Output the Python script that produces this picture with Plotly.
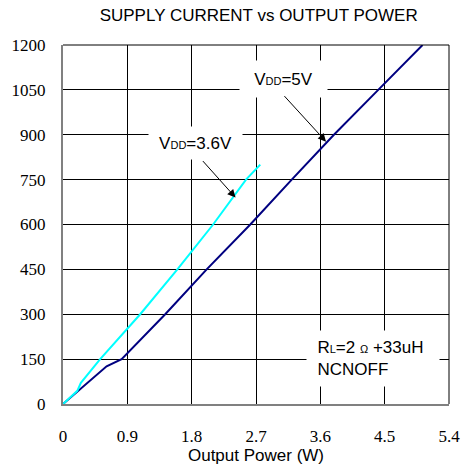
import plotly.graph_objects as go

# ---- data ----
x_tick_vals = [0, 0.9, 1.8, 2.7, 3.6, 4.5, 5.4]
x_tick_text = ["0", "0.9", "1.8", "2.7", "3.6", "4.5", "5.4"]
y_tick_vals = [0, 150, 300, 450, 600, 750, 900, 1050, 1200]
y_tick_text = ["0", "150", "300", "450", "600", "750", "900", "1050", "1200"]

vdd5_power = [0, 0.61, 0.82, 1.43, 2.01, 2.62, 3.20, 3.79, 4.41, 5.03]
vdd5_current = [0, 126, 150, 300, 450, 600, 750, 900, 1050, 1200]

vdd36_power = [0, 0.20, 0.25, 0.52, 1.08, 1.60, 2.10, 2.56, 2.76]
vdd36_current = [0, 44, 71, 150, 300, 450, 600, 750, 800]

NAVY = "#000080"
CYAN = "#00FFFF"
SANS = "Liberation Sans, Arial, sans-serif"
SERIF = "Times New Roman, Liberation Serif, serif"

fig = go.Figure()
fig.add_trace(go.Scatter(x=vdd5_power, y=vdd5_current, mode="lines",
                         line=dict(color=NAVY, width=2), name="VDD=5V",
                         showlegend=False))
fig.add_trace(go.Scatter(x=vdd36_power, y=vdd36_current, mode="lines",
                         line=dict(color=CYAN, width=2), name="VDD=3.6V",
                         showlegend=False))

small = "<span style='font-size:11px'>"
nb = "\u00a0\u00a0"
annotations = [
    # label boxes (white background masks the grid)
    dict(x=3.08, y=1088, xref="x", yref="y", showarrow=False,
         text="V" + small + "DD</span>=5V", bgcolor="white",
         width=85, height=34, font=dict(family=SANS, size=17, color="black")),
    dict(x=1.86, y=871, xref="x", yref="y", showarrow=False,
         text="V" + small + "DD</span>=3.6V", bgcolor="white",
         width=91, height=30, font=dict(family=SANS, size=17, color="black")),
    dict(x=4.342, y=153, xref="x", yref="y", showarrow=False,
         text=nb + "R" + small + "L</span>=2 " + small + "\u03a9</span> +33uH<br>"
              + nb + "NCNOFF",
         align="left", bgcolor="white", width=130, height=53,
         font=dict(family=SANS, size=17, color="black")),
    # arrows
    dict(x=3.68, y=877, xref="x", yref="y", text="", showarrow=True,
         ax=-43, ay=-47, arrowhead=2, arrowsize=1.6, arrowwidth=1,
         arrowcolor="black"),
    dict(x=2.414, y=690, xref="x", yref="y", text="", showarrow=True,
         ax=-34, ay=-38, arrowhead=2, arrowsize=1.6, arrowwidth=1,
         arrowcolor="black"),
]

fig.update_layout(
    width=472, height=472,
    margin=dict(l=62, r=17, t=45, b=62),
    paper_bgcolor="white", plot_bgcolor="white",
    title=dict(text="SUPPLY CURRENT vs OUTPUT POWER", x=0.548, xanchor="center",
               y=0.968, yanchor="middle",
               font=dict(family=SANS, size=17, color="black")),
    annotations=annotations,
    shapes=[
        dict(type="line", xref="paper", yref="paper", x0=0, x1=1, y0=1, y1=1,
             line=dict(color="black", width=1)),
        dict(type="line", xref="paper", yref="paper", x0=1, x1=1, y0=0, y1=1,
             line=dict(color="black", width=1)),
    ],
)
fig.update_xaxes(range=[0, 5.4], tickvals=x_tick_vals, ticktext=x_tick_text,
                 showgrid=True, gridcolor="black", gridwidth=1, zeroline=False,
                 showline=True, linecolor="#808080", linewidth=2,
                 ticks="", ticklabelstandoff=16,
                 tickfont=dict(family=SERIF, size=17, color="black"),
                 title=dict(text="Output Power (W)", standoff=2,
                            font=dict(family=SANS, size=17, color="black")))
fig.update_yaxes(range=[0, 1200], tickvals=y_tick_vals, ticktext=y_tick_text,
                 showgrid=True, gridcolor="black", gridwidth=1, zeroline=False,
                 showline=True, linecolor="#808080", linewidth=2,
                 ticks="", ticklabelstandoff=12,
                 tickfont=dict(family=SERIF, size=17, color="black"))

fig.write_html(
    "out.html",
    config={"displayModeBar": False},
    post_script=("document.documentElement.style.margin='0';"
                 "document.documentElement.style.overflow='hidden';"
                 "document.body.style.margin='0';"
                 "document.body.style.padding='0';"
                 "document.body.style.overflow='hidden';"),
)
